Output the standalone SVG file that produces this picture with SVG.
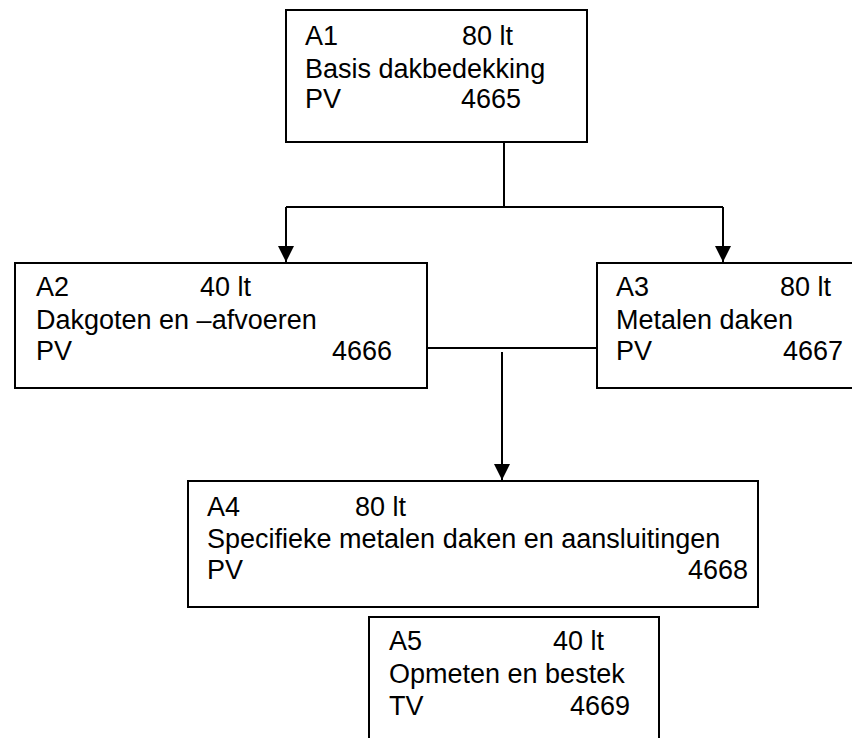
<svg xmlns="http://www.w3.org/2000/svg" width="852" height="738" viewBox="0 0 852 738">
<defs>
<marker id="ah" markerUnits="userSpaceOnUse" markerWidth="16" markerHeight="16" refX="16" refY="8" orient="auto" viewBox="0 0 16 16">
<path d="M0,0 L16,8 L0,16 Z" fill="#000"/>
</marker>
<style>
.box{fill:#fff;stroke:#000;stroke-width:2}
.t{font-family:"Liberation Sans",Arial,sans-serif;font-size:27px;fill:#000}
.c{fill:none;stroke:#000;stroke-width:2}
</style>
</defs>
<rect width="852" height="738" fill="#fff"/>
<g id="A1">
<rect class="box" x="286" y="10" width="301" height="132"/>
<text class="t" x="305" y="45">A1</text>
<text class="t" x="462" y="45">80 lt</text>
<text class="t" x="305" y="78">Basis dakbedekking</text>
<text class="t" x="305" y="108">PV</text>
<text class="t" x="461" y="108">4665</text>
</g>
<g id="A2">
<rect class="box" x="15" y="263" width="412" height="125"/>
<text class="t" x="36" y="296">A2</text>
<text class="t" x="200" y="296">40 lt</text>
<text class="t" x="36" y="329">Dakgoten en –afvoeren</text>
<text class="t" x="36" y="360">PV</text>
<text class="t" x="332" y="360">4666</text>
</g>
<g id="A3">
<rect class="box" x="597" y="263" width="270" height="125"/>
<text class="t" x="616" y="296">A3</text>
<text class="t" x="780" y="296">80 lt</text>
<text class="t" x="616" y="329">Metalen daken</text>
<text class="t" x="616" y="360">PV</text>
<text class="t" x="783" y="360">4667</text>
</g>
<g id="A4">
<rect class="box" x="188" y="481" width="570" height="126"/>
<text class="t" x="207" y="516">A4</text>
<text class="t" x="355" y="516">80 lt</text>
<text class="t" x="207" y="548">Specifieke metalen daken en aansluitingen</text>
<text class="t" x="207" y="579">PV</text>
<text class="t" x="688" y="579">4668</text>
</g>
<g id="A5">
<rect class="box" x="369" y="617" width="290" height="140"/>
<text class="t" x="389" y="650">A5</text>
<text class="t" x="553" y="650">40 lt</text>
<text class="t" x="389" y="683">Opmeten en bestek</text>
<text class="t" x="389" y="715">TV</text>
<text class="t" x="570" y="715">4669</text>
</g>
<g id="connectors">
<path class="c" d="M504,142 V207"/>
<path class="c" d="M286,207 H723"/>
<path class="c" d="M286,207 V262" marker-end="url(#ah)"/>
<path class="c" d="M723,207 V262" marker-end="url(#ah)"/>
<path class="c" d="M427,348 H597"/>
<path class="c" d="M502,352 V480" marker-end="url(#ah)"/>
</g>
</svg>
